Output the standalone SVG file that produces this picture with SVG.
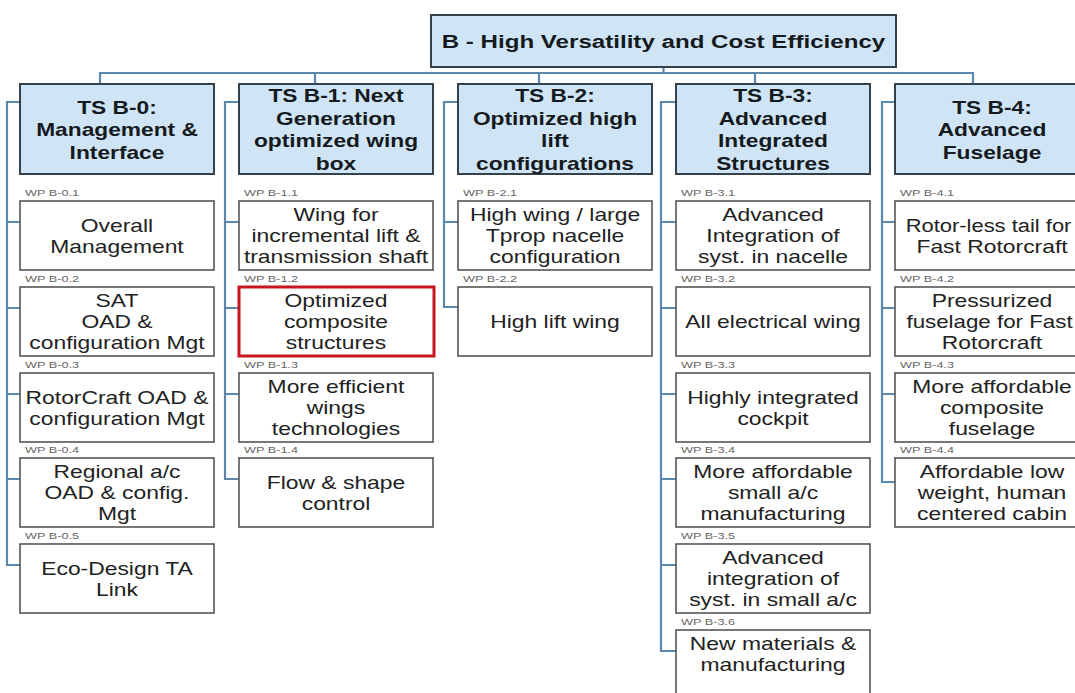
<svg xmlns="http://www.w3.org/2000/svg" width="1075" height="693" viewBox="0 0 1075 693">
<style>
text{font-family:"Liberation Sans",Arial,sans-serif;text-anchor:middle}
.hdr{fill:#cfe5f5;stroke:#35414b;stroke-width:2}
.box{fill:#ffffff;stroke:#555;stroke-width:1.6}
.red{fill:#ffffff;stroke:#c8141e;stroke-width:3}
.ht{font-size:18.5px;font-weight:bold;fill:#151a20}
.tt{font-size:19px;font-weight:bold;fill:#151a20}
.bt{font-size:18.6px;fill:#222}
.wp{font-size:8.5px;fill:#666;text-anchor:start}
.con{fill:none;stroke:#5d88ad;stroke-width:2.2}
</style>
<rect width="1075" height="693" fill="#fff"/>

<g id="connectors" class="con">
<path d="M663.5 67V73M100 84V73H973V84M315 73V84M539 73V84M755 73V84"/>
<path d="M20 102H7V565H20M7 222H20M7 308H20M7 394H20M7 479H20"/>
<path d="M239 102H225V479H239M225 222H239M225 308H239M225 394H239"/>
<path d="M458 102H444V307H458M444 222H458"/>
<path d="M676 102H661V651H676M661 222H676M661 308H676M661 394H676M661 479H676M661 565H676"/>
<path d="M895 102H882V482H895M882 222H895M882 308H895M882 394H895"/>
</g>

<g id="top">
<rect class="hdr" x="431" y="15" width="465" height="52"/>
<g transform="matrix(1.27 0 0 1 663.5 0)"><text class="tt" y="48">B - High Versatility and Cost Efficiency</text></g>
</g>

<g id="ts-b0">
<rect class="hdr" x="20" y="84" width="194" height="90"/>
<g class="ht" transform="matrix(1.23 0 0 1 117 0)"><text y="114">TS B-0:</text><text y="136.5">Management &amp;</text><text y="159">Interface</text></g>
</g>
<g id="ts-b1">
<rect class="hdr" x="239" y="84" width="194" height="90"/>
<g class="ht" transform="matrix(1.23 0 0 1 336 0)"><text y="102.5">TS B-1: Next</text><text y="125">Generation</text><text y="147.5">optimized wing</text><text y="170">box</text></g>
</g>
<g id="ts-b2">
<rect class="hdr" x="458" y="84" width="194" height="90"/>
<g class="ht" transform="matrix(1.23 0 0 1 555 0)"><text y="102.5">TS B-2:</text><text y="125">Optimized high</text><text y="147.5">lift</text><text y="170">configurations</text></g>
</g>
<g id="ts-b3">
<rect class="hdr" x="676" y="84" width="194" height="90"/>
<g class="ht" transform="matrix(1.23 0 0 1 773 0)"><text y="102.5">TS B-3:</text><text y="125">Advanced</text><text y="147.5">Integrated</text><text y="170">Structures</text></g>
</g>
<g id="ts-b4">
<rect class="hdr" x="895" y="84" width="194" height="90"/>
<g class="ht" transform="matrix(1.23 0 0 1 992 0)"><text y="114">TS B-4:</text><text y="136.5">Advanced</text><text y="159">Fuselage</text></g>
</g>

<!-- B-0 column -->
<g id="wp-b0-1"><text class="wp" x="25" y="196" textLength="54" lengthAdjust="spacingAndGlyphs">WP B-0.1</text><rect class="box" x="20" y="201" width="194" height="69"/>
<g class="bt" transform="matrix(1.23 0 0 1 117 0)"><text y="231.7">Overall</text><text y="252.7">Management</text></g></g>
<g id="wp-b0-2"><text class="wp" x="25" y="282" textLength="54" lengthAdjust="spacingAndGlyphs">WP B-0.2</text><rect class="box" x="20" y="287" width="194" height="69"/>
<g class="bt" transform="matrix(1.23 0 0 1 117 0)"><text y="307.2">SAT</text><text y="328.2">OAD &amp;</text><text y="349.2">configuration Mgt</text></g></g>
<g id="wp-b0-3"><text class="wp" x="25" y="368" textLength="54" lengthAdjust="spacingAndGlyphs">WP B-0.3</text><rect class="box" x="20" y="373" width="194" height="69"/>
<g class="bt" transform="matrix(1.23 0 0 1 117 0)"><text y="403.7">RotorCraft OAD &amp;</text><text y="424.7">configuration Mgt</text></g></g>
<g id="wp-b0-4"><text class="wp" x="25" y="453" textLength="54" lengthAdjust="spacingAndGlyphs">WP B-0.4</text><rect class="box" x="20" y="458" width="194" height="69"/>
<g class="bt" transform="matrix(1.23 0 0 1 117 0)"><text y="478.2">Regional a/c</text><text y="499.2">OAD &amp; config.</text><text y="520.2">Mgt</text></g></g>
<g id="wp-b0-5"><text class="wp" x="25" y="539" textLength="54" lengthAdjust="spacingAndGlyphs">WP B-0.5</text><rect class="box" x="20" y="544" width="194" height="69"/>
<g class="bt" transform="matrix(1.23 0 0 1 117 0)"><text y="574.7">Eco-Design TA</text><text y="595.7">Link</text></g></g>

<!-- B-1 column -->
<g id="wp-b1-1"><text class="wp" x="244" y="196" textLength="54" lengthAdjust="spacingAndGlyphs">WP B-1.1</text><rect class="box" x="239" y="201" width="194" height="69"/>
<g class="bt" transform="matrix(1.23 0 0 1 336 0)"><text y="221.2">Wing for</text><text y="242.2">incremental lift &amp;</text><text y="263.2">transmission shaft</text></g></g>
<g id="wp-b1-2"><text class="wp" x="244" y="282" textLength="54" lengthAdjust="spacingAndGlyphs">WP B-1.2</text><rect class="red" x="239" y="287" width="195" height="69"/>
<g class="bt" transform="matrix(1.23 0 0 1 336 0)"><text y="307.2">Optimized</text><text y="328.2">composite</text><text y="349.2">structures</text></g></g>
<g id="wp-b1-3"><text class="wp" x="244" y="368" textLength="54" lengthAdjust="spacingAndGlyphs">WP B-1.3</text><rect class="box" x="239" y="373" width="194" height="69"/>
<g class="bt" transform="matrix(1.23 0 0 1 336 0)"><text y="393.2">More efficient</text><text y="414.2">wings</text><text y="435.2">technologies</text></g></g>
<g id="wp-b1-4"><text class="wp" x="244" y="453" textLength="54" lengthAdjust="spacingAndGlyphs">WP B-1.4</text><rect class="box" x="239" y="458" width="194" height="69"/>
<g class="bt" transform="matrix(1.23 0 0 1 336 0)"><text y="488.7">Flow &amp; shape</text><text y="509.7">control</text></g></g>

<!-- B-2 column -->
<g id="wp-b2-1"><text class="wp" x="463" y="196" textLength="54" lengthAdjust="spacingAndGlyphs">WP B-2.1</text><rect class="box" x="458" y="201" width="194" height="69"/>
<g class="bt" transform="matrix(1.23 0 0 1 555 0)"><text y="221.2">High wing / large</text><text y="242.2">Tprop nacelle</text><text y="263.2">configuration</text></g></g>
<g id="wp-b2-2"><text class="wp" x="463" y="282" textLength="54" lengthAdjust="spacingAndGlyphs">WP B-2.2</text><rect class="box" x="458" y="287" width="194" height="69"/>
<g class="bt" transform="matrix(1.23 0 0 1 555 0)"><text y="328.2">High lift wing</text></g></g>

<!-- B-3 column -->
<g id="wp-b3-1"><text class="wp" x="681" y="196" textLength="54" lengthAdjust="spacingAndGlyphs">WP B-3.1</text><rect class="box" x="676" y="201" width="194" height="69"/>
<g class="bt" transform="matrix(1.23 0 0 1 773 0)"><text y="221.2">Advanced</text><text y="242.2">Integration of</text><text y="263.2">syst. in nacelle</text></g></g>
<g id="wp-b3-2"><text class="wp" x="681" y="282" textLength="54" lengthAdjust="spacingAndGlyphs">WP B-3.2</text><rect class="box" x="676" y="287" width="194" height="69"/>
<g class="bt" transform="matrix(1.23 0 0 1 773 0)"><text y="328.2">All electrical wing</text></g></g>
<g id="wp-b3-3"><text class="wp" x="681" y="368" textLength="54" lengthAdjust="spacingAndGlyphs">WP B-3.3</text><rect class="box" x="676" y="373" width="194" height="69"/>
<g class="bt" transform="matrix(1.23 0 0 1 773 0)"><text y="403.7">Highly integrated</text><text y="424.7">cockpit</text></g></g>
<g id="wp-b3-4"><text class="wp" x="681" y="453" textLength="54" lengthAdjust="spacingAndGlyphs">WP B-3.4</text><rect class="box" x="676" y="458" width="194" height="69"/>
<g class="bt" transform="matrix(1.23 0 0 1 773 0)"><text y="478.2">More affordable</text><text y="499.2">small a/c</text><text y="520.2">manufacturing</text></g></g>
<g id="wp-b3-5"><text class="wp" x="681" y="539" textLength="54" lengthAdjust="spacingAndGlyphs">WP B-3.5</text><rect class="box" x="676" y="544" width="194" height="69"/>
<g class="bt" transform="matrix(1.23 0 0 1 773 0)"><text y="564.2">Advanced</text><text y="585.2">integration of</text><text y="606.2">syst. in small a/c</text></g></g>
<g id="wp-b3-6"><text class="wp" x="681" y="625" textLength="54" lengthAdjust="spacingAndGlyphs">WP B-3.6</text><rect class="box" x="676" y="630" width="194" height="80"/>
<g class="bt" transform="matrix(1.23 0 0 1 773 0)"><text y="650">New materials &amp;</text><text y="671">manufacturing</text></g></g>

<!-- B-4 column -->
<g id="wp-b4-1"><text class="wp" x="900" y="196" textLength="54" lengthAdjust="spacingAndGlyphs">WP B-4.1</text><rect class="box" x="895" y="201" width="194" height="69"/>
<g class="bt" transform="matrix(1.18 0 0 1 988.5 0)"><text y="231.7">Rotor-less tail for</text></g>
<g class="bt" transform="matrix(1.23 0 0 1 992 0)"><text y="252.7">Fast Rotorcraft</text></g></g>
<g id="wp-b4-2"><text class="wp" x="900" y="282" textLength="54" lengthAdjust="spacingAndGlyphs">WP B-4.2</text><rect class="box" x="895" y="287" width="194" height="69"/>
<g class="bt" transform="matrix(1.23 0 0 1 992 0)"><text y="307.2">Pressurized</text><text y="349.2">Rotorcraft</text></g>
<g class="bt" transform="matrix(1.2 0 0 1 989.5 0)"><text y="328.2">fuselage for Fast</text></g></g>
<g id="wp-b4-3"><text class="wp" x="900" y="368" textLength="54" lengthAdjust="spacingAndGlyphs">WP B-4.3</text><rect class="box" x="895" y="373" width="194" height="69"/>
<g class="bt" transform="matrix(1.23 0 0 1 992 0)"><text y="393.2">More affordable</text><text y="414.2">composite</text><text y="435.2">fuselage</text></g></g>
<g id="wp-b4-4"><text class="wp" x="900" y="453" textLength="54" lengthAdjust="spacingAndGlyphs">WP B-4.4</text><rect class="box" x="895" y="458" width="194" height="69"/>
<g class="bt" transform="matrix(1.23 0 0 1 992 0)"><text y="478.2">Affordable low</text><text y="499.2">weight, human</text><text y="520.2">centered cabin</text></g></g>
</svg>
